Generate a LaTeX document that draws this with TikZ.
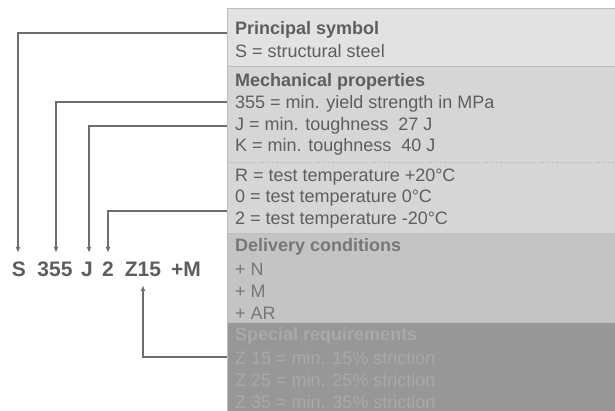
\documentclass[tikz,border=0pt]{standalone}
\usepackage{fontspec}
\setmainfont{Liberation Sans}
\usetikzlibrary{arrows.meta}
\definecolor{boxA}{HTML}{E2E2E2}
\definecolor{boxB}{HTML}{D6D6D6}
\definecolor{boxC}{HTML}{C4C4C4}
\definecolor{boxD}{HTML}{979797}
\definecolor{edge}{HTML}{BDBDBD}
\definecolor{txt}{HTML}{5E5E5E}
\definecolor{txtC}{HTML}{777777}
\definecolor{txtD}{HTML}{A9A9A9}
\definecolor{conn}{HTML}{6E6E6E}
\tikzset{
  panel/.style={draw=edge, line width=1pt, anchor=north west, inner sep=0pt},
  ln/.style={anchor=west, inner sep=0pt, font=\fontsize{18}{20}\selectfont, text=txt},
  hd/.style={ln, font=\fontsize{18}{20}\selectfont\bfseries},
  code/.style={inner sep=0pt, text height=15pt, text depth=0pt, font=\fontsize{21}{24}\selectfont\bfseries, text=txt},
  conn/.style={draw=conn, line width=1.5pt, -{Latex[length=6pt,width=5pt]}}
}
\begin{document}
\begin{tikzpicture}[x=1pt,y=-1pt]
\useasboundingbox (0,0) rectangle (615,411);
% panels
\node[panel, fill=boxA, minimum width=400pt, minimum height=58pt] (pA) at (227,8) {};
\node[panel, fill=boxB, minimum width=400pt, minimum height=167pt] (pB) at (227,66) {};
\node[panel, fill=boxC, minimum width=400pt, minimum height=89pt] (pC) at (227,233) {};
\node[panel, fill=boxD, minimum width=400pt, minimum height=100pt] (pD) at (227,322) {};
\draw[edge!70!gray, dotted, line width=0.8pt] (pB.west |- 0,162) coordinate (dl) -- (615,162);
% texts
\node[hd] (t1) at (235,30) {Principal symbol};
\node[ln] (t2) at (235,51) {S = structural steel};
\node[hd] (t3) at (235,82) {Mechanical properties};
\node[ln] (t4) at (235,104) {355 = min. yield strength in MPa};
\node[ln] (t5) at (235,126) {J = min. toughness\ \ 27 J};
\node[ln] (t6) at (235,147) {K = min. toughness\ \ 40 J};
\node[ln] (t7) at (235,177) {R = test temperature +20°C};
\node[ln] (t8) at (235,198) {0 = test temperature 0°C};
\node[ln] (t9) at (235,220) {2 = test temperature -20°C};
\node[hd, text=txtC] (t10) at (235,247) {Delivery conditions};
\node[ln, text=txtC] (t11) at (235,269) {+ N};
\node[ln, text=txtC] (t12) at (235,291) {+ M};
\node[ln, text=txtC] (t13) at (235,313) {+ AR};
\node[hd, text=txtD] (t14) at (235,336) {Special requirements};
\node[ln, text=txtD] (t15) at (235,358) {Z 15 = min. 15\% striction};
\node[ln, text=txtD] (t16) at (235,380) {Z 25 = min. 25\% striction};
\node[ln, text=txtD] (t17) at (235,402) {Z 35 = min. 35\% striction};
% code
\node[code] (cS) at (19,269) {S};
\node[code] (c355) at (55,269) {355};
\node[code] (cJ) at (87,269) {J};
\node[code] (c2) at (108,269) {2};
\node[code] (cZ) at (143,269) {Z15};
\node[code] (cM) at (186,269) {+M};
% connector anchors on panel edge
\coordinate (eS) at (227,33);
\coordinate (e355) at (227,102);
\coordinate (eJ) at (227,126);
\coordinate (e2) at (227,211);
\coordinate (eZ) at (227,357);
\draw[conn, shorten >=8.5pt] (eS) -| ([xshift=-1pt]cS.north);
\draw[conn, shorten >=8.5pt] (e355) -| ([xshift=1pt]c355.north);
\draw[conn, shorten >=8.5pt] (eJ) -| ([xshift=2pt]cJ.north);
\draw[conn, shorten >=8.5pt] (e2) -| (c2.north);
\draw[conn, shorten >=8.5pt] (eZ) -| (cZ.south);
\end{tikzpicture}
\end{document}
